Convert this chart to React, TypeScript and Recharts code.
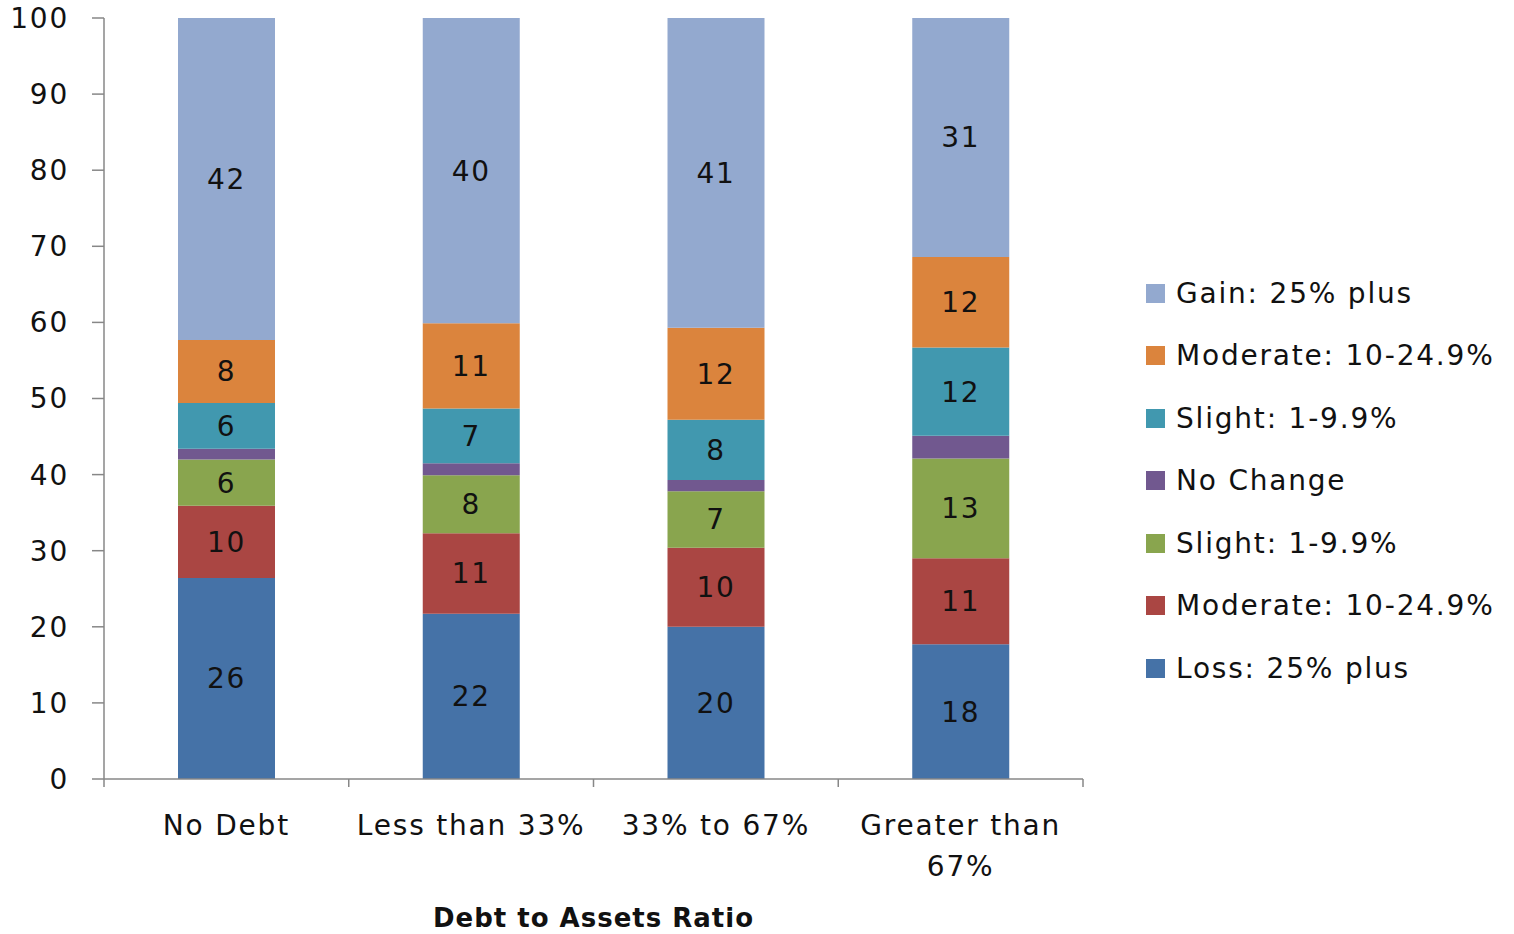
import { Bar, BarChart, LabelList, XAxis, YAxis, Label } from "recharts";

const categories = ["No Debt", "Less than 33%", "33% to 67%", "Greater than 67%"];

// segment shares (%), bottom to top of each stack
const lossHigh = [26.4, 21.7, 20.0, 17.7];
const lossMod = [9.5, 10.6, 10.4, 11.3];
const lossSlight = [6.1, 7.6, 7.4, 13.1];
const noChange = [1.4, 1.6, 1.5, 3.0];
const gainSlight = [6.0, 7.2, 7.9, 11.6];
const gainMod = [8.3, 11.2, 12.1, 11.9];
const gainHigh = [42.3, 40.1, 40.7, 31.4];

const yTicks = [0, 10, 20, 30, 40, 50, 60, 70, 80, 90, 100];

const series = [
  { key: "lossHigh", name: "Loss: 25% plus", color: "#4572A7", values: lossHigh, label: true },
  { key: "lossMod", name: "Moderate: 10-24.9%", color: "#AA4643", values: lossMod, label: true },
  { key: "lossSlight", name: "Slight: 1-9.9%", color: "#89A54E", values: lossSlight, label: true },
  { key: "noChange", name: "No Change", color: "#71588F", values: noChange, label: false },
  { key: "gainSlight", name: "Slight: 1-9.9%", color: "#4198AF", values: gainSlight, label: true },
  { key: "gainMod", name: "Moderate: 10-24.9%", color: "#DB843D", values: gainMod, label: true },
  { key: "gainHigh", name: "Gain: 25% plus", color: "#93A9CF", values: gainHigh, label: true },
];

const data = categories.map((name, i) => {
  const row: Record<string, string | number> = { name };
  series.forEach((s) => (row[s.key] = s.values[i]));
  return row;
});

const W = 1514;
const H = 934;
const PLOT_LEFT = 104;
const PLOT_RIGHT = 1083;
const FONT = "'DejaVu Sans', sans-serif";
const FS = 28;
const LS = 1.8;
const TEXT = "#111";
const AXIS = "#878787";
const half = (PLOT_RIGHT - PLOT_LEFT) / categories.length / 2;

function splitLabel(s: string) {
  if (s.length <= 14) return [s];
  const i = s.lastIndexOf(" ");
  return [s.slice(0, i), s.slice(i + 1)];
}

function CatTick(props: any) {
  const { x, y, payload, index } = props;
  const lines = splitLabel(String(payload.value));
  const last = index === categories.length - 1;
  return (
    <g>
      <line x1={x - half} y1={y} x2={x - half} y2={y + 8} stroke={AXIS} strokeWidth={1.5} />
      {last && <line x1={x + half} y1={y} x2={x + half} y2={y + 8} stroke={AXIS} strokeWidth={1.5} />}
      <text x={x} y={y + 56} textAnchor="middle" fill={TEXT} fontSize={FS} fontFamily={FONT} style={{ letterSpacing: LS }}>
        {lines.map((l, k) => (
          <tspan key={k} x={x} dy={k === 0 ? 0 : 41}>
            {l}
          </tspan>
        ))}
      </text>
    </g>
  );
}

export default function App() {
  return (
    <div style={{ position: "absolute", left: 0, top: 0, width: W, height: H, background: "#fff", fontFamily: FONT }}>
      <BarChart width={W} height={H} data={data} margin={{ top: 18, right: W - PLOT_RIGHT, bottom: 0, left: 0 }}>
        <YAxis
          width={PLOT_LEFT}
          domain={[0, 100]}
          ticks={yTicks}
          interval={0}
          tickSize={12}
          tickMargin={23}
          axisLine={{ stroke: AXIS, strokeWidth: 1.5 }}
          tickLine={{ stroke: AXIS, strokeWidth: 1.5 }}
          tick={{ fill: TEXT, fontSize: FS, fontFamily: FONT, style: { letterSpacing: LS } }}
        />
        <XAxis
          dataKey="name"
          height={155}
          interval={0}
          tickSize={0}
          tickMargin={0}
          axisLine={{ stroke: AXIS, strokeWidth: 1.5 }}
          tickLine={false}
          tick={<CatTick />}
        >
          <Label
            content={(p: any) => {
              const vb = p.viewBox;
              return (
                <text
                  x={vb.x + vb.width / 2}
                  y={vb.y + vb.height - 7}
                  textAnchor="middle"
                  fill={TEXT}
                  fontSize={26}
                  fontWeight={700}
                  fontFamily={FONT}
                  style={{ letterSpacing: 1 }}
                >
                  Debt to Assets Ratio
                </text>
              );
            }}
          />
        </XAxis>
        {series.map((s) => (
          <Bar key={s.key} dataKey={s.key} name={s.name} stackId="a" fill={s.color} barSize={97} isAnimationActive={false}>
            {s.label && (
              <LabelList
                dataKey={s.key}
                position="center"
                formatter={(v: any) => Math.round(Number(v))}
                fill={TEXT}
                fontSize={FS}
                fontFamily={FONT}
                style={{ letterSpacing: LS }}
              />
            )}
          </Bar>
        ))}
      </BarChart>
      <div style={{ position: "absolute", left: 1146, top: 262, width: 368 }}>
        {[...series].reverse().map((s) => (
          <div key={s.key} style={{ display: "flex", alignItems: "center", height: 62.5 }}>
            <div style={{ width: 19, height: 19, background: s.color, marginRight: 11, flexShrink: 0 }} />
            <span style={{ fontSize: FS, color: TEXT, letterSpacing: LS, whiteSpace: "nowrap" }}>{s.name}</span>
          </div>
        ))}
      </div>
    </div>
  );
}
